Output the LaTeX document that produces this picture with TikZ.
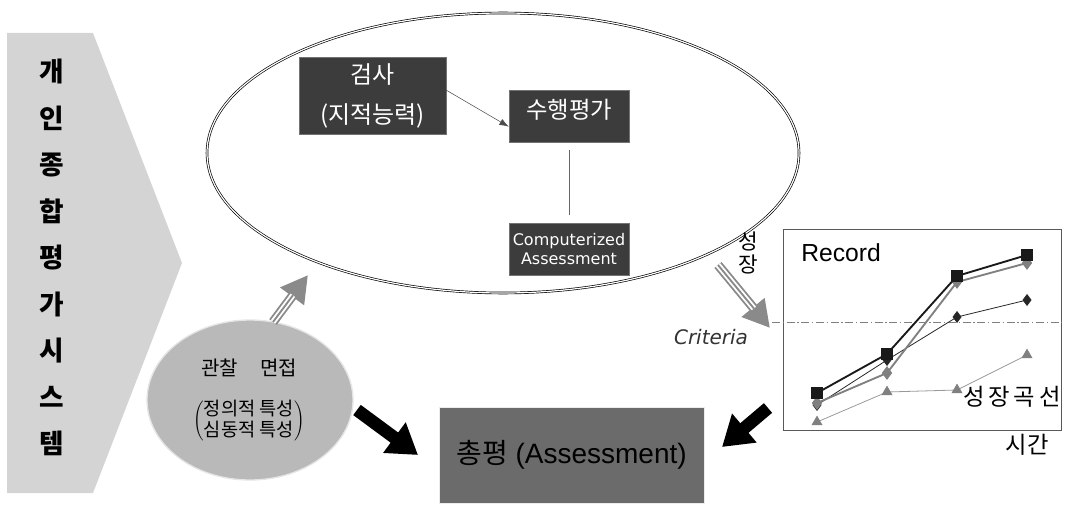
\documentclass[tikz,border=0pt]{standalone}
\usepackage{fontspec}
\setmainfont{Liberation Sans}
\newfontfamily\kr{Noto Sans CJK KR}
\newfontfamily\dv{DejaVu Sans}
\usetikzlibrary{arrows.meta,plotmarks,shapes.geometric}

\definecolor{chevgray}{HTML}{D4D4D4}
\definecolor{boxdark}{HTML}{3C3C3C}
\definecolor{totgray}{HTML}{6B6B6B}
\definecolor{circgray}{HTML}{B9B9B9}
\definecolor{arrgray}{HTML}{8A8A8A}

\tikzset{
  darkbox/.style={rectangle, fill=boxdark, draw=black!55, text=white, inner sep=0pt, align=center},
  chevch/.style={font=\kr\bfseries\fontsize{20}{20}\selectfont},
  bigarrow/.style={line width=9.5pt, black, -{Triangle[length=22pt,width=27pt]}},
}

% triple-lined gray arrow
\newcommand{\triplearrow}[2]{%
  \draw[arrgray, line width=7pt, -{Triangle[length=20pt,width=21pt]}] (#1) -- (#2);
  \draw[white, line width=4.2pt, shorten >=19pt] (#1) -- (#2);
  \draw[arrgray, line width=1.4pt, shorten >=19pt] (#1) -- (#2);
}

\begin{document}
\begin{tikzpicture}[x=0.75pt, y=-0.75pt]

    \useasboundingbox (0,0) rectangle (1066,506);

    % 1. Chevron on the left
    \fill[chevgray] (7,33) -- (93,33) -- (182,263) -- (93,493) -- (7,493) -- cycle;
    \foreach \ch [count=\i] in {개,인,종,합,평,가,시,스,템}
        \node[chevch] (ch\i) at (52,{72+46.4*(\i-1)}) {\ch};

    % 2. Big ellipse with the three boxes
    \node[ellipse, draw, double, double distance=0.9pt, line width=0.5pt,
          minimum width=444pt, minimum height=210pt] (big) at (503,153) {};

    \node[darkbox, minimum width=110.25pt, minimum height=57.75pt,
          font=\kr\fontsize{18}{30}\selectfont] (test) at (372.5,95.5) {검사\\(지적능력)};
    \node[darkbox, minimum width=90pt, minimum height=39pt, text depth=10pt,
          font=\kr\fontsize{17.5}{18}\selectfont] (perf) at (569,116) {수행평가};
    \node[darkbox, minimum width=90pt, minimum height=39pt,
          font=\dv\fontsize{12}{14}\selectfont] (comp) at (569,249) {Computerized\\Assessment};

    \draw[black!70, line width=0.4pt, -{Latex[length=7pt,width=5pt]}]
        ([yshift=4pt]test.east) -- ([yshift=-8pt]perf.west);
    \draw[black!60, line width=0.4pt, shorten <=6pt, shorten >=6pt] (perf.south) -- (comp.north);

    % 3. Observation / interview circle
    \node[ellipse, fill=circgray, draw=white!80!gray, line width=1pt,
          minimum width=154.5pt, minimum height=120pt] (obs) at (250,400) {};
    \node[font=\kr\fontsize{15}{15}\selectfont] (obst) at (249,368) {관찰\hspace{1.1em}면접};
    \node[font=\kr\fontsize{14}{15}\selectfont, inner sep=0pt] (trait) at (249,421)
        {$\left(\begin{tabular}{@{}c@{}}{\kr 정의적 특성}\\{\kr 심동적 특성}\end{tabular}\right)$};

    % 4. Total assessment box
    \node[rectangle, fill=totgray, draw=white!85!gray, minimum width=198.75pt, minimum height=72pt,
          font=\fontsize{21}{24}\selectfont] (total) at (571.5,455) {{\kr 총평} (Assessment)};

    % 5. Growth chart
    \node[rectangle, draw=black!65, line width=0.6pt, minimum width=208.5pt, minimum height=150.75pt]
        (chart) at (922,329.5) {};
    \coordinate (crit) at (772,322);
    \draw[gray, line width=0.7pt, dash pattern=on 6pt off 2pt on 1pt off 2pt] (crit) -- (crit -| chart.east);

    \draw[gray!80, line width=0.6pt, mark=triangle*, mark size=4.2pt, mark options={fill=gray, draw=gray}]
        plot coordinates {(817,422) (887,392) (957,390) (1027,355)};
    \draw[black!85, line width=0.6pt, mark=diamond*, mark size=4pt]
        plot coordinates {(817,405) (887,360) (957,317) (1027,300)};
    \draw[gray, line width=1.4pt, mark=diamond*, mark size=4pt, mark options={fill=gray}]
        plot coordinates {(817,403) (887,373) (957,282) (1027,263)};
    \draw[black!90, line width=1.4pt, mark=square*, mark size=3.6pt]
        plot coordinates {(817,393) (887,354) (957,276) (1027,255)};

    \node[font=\fontsize{18.5}{18.5}\selectfont] (rec) at (841,253) {Record};
    \node[font=\dv\itshape\fontsize{15}{15}\selectfont, text=black!80] (critt) at (711,337) {Criteria};
    \node[font=\kr\fontsize{17.5}{17.5}\selectfont] (curve) at (1012,397) {성\,장\,곡\,선};
    \node[font=\kr\fontsize{17.5}{17.5}\selectfont] (time) at (1027,445) {시간};
    \node[font=\kr\fontsize{16}{17}\selectfont, align=center, inner sep=0pt] (grow) at (748,253) {성\\장};

    % 6. Arrows
    \coordinate (obsA) at (273,322);
    \coordinate (bigA) at (308,275);
    \coordinate (growA) at (718,265);
    \coordinate (critA) at (770,328);
    \triplearrow{obsA}{bigA}
    \triplearrow{growA}{critA}

    \coordinate (obsB) at (357,410);
    \coordinate (totB) at (418,455);
    \coordinate (chartB) at (768,408);
    \coordinate (totC) at (722,447);
    \draw[bigarrow] (obsB) -- (totB);
    \draw[bigarrow] (chartB) -- (totC);

\end{tikzpicture}
\end{document}
